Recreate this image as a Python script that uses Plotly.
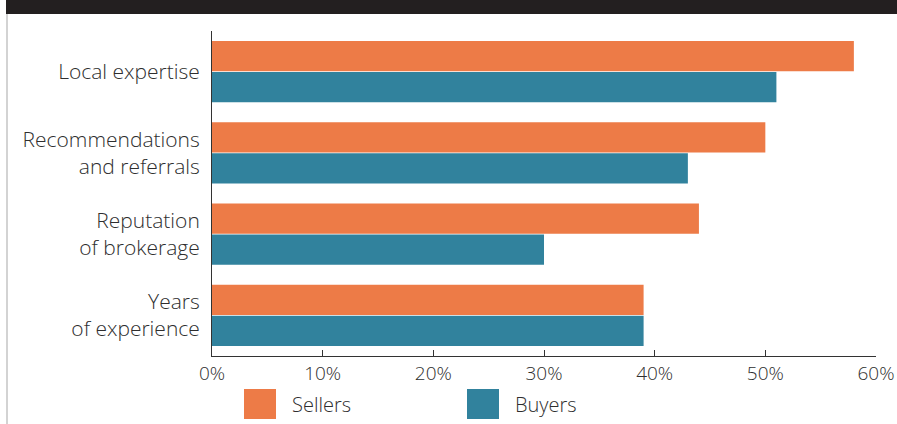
import plotly.graph_objects as go

categories = ["Local expertise", "Recommendations<br>and referrals", "Reputation<br>of brokerage", "Years<br>of experience"]
sellers = [58, 50, 44, 39]
buyers = [51, 43, 30, 39]
tick_vals = [0, 10, 20, 30, 40, 50, 60]
tick_text = ["0%", "10%", "20%", "30%", "40%", "50%", "60%"]

ORANGE = "#ED7B47"
TEAL = "#31829D"
TXT = "#2e2e2e"
FONT = "Open Sans"

W, H = 897, 424
L, R, T, B = 212, 21, 31, 68
pw, ph = W - L - R, H - T - B

def px(x):
    return (x - L) / pw

def py(y):
    return (H - B - y) / ph

fig = go.Figure()
fig.add_trace(go.Bar(y=categories, x=sellers, orientation="h", name="Sellers",
                     marker=dict(color=ORANGE, line=dict(width=0)), showlegend=False))
fig.add_trace(go.Bar(y=categories, x=buyers, orientation="h", name="Buyers",
                     marker=dict(color=TEAL, line=dict(width=0)), showlegend=False))

shapes = [
    dict(type="rect", xref="paper", yref="paper", x0=px(6), x1=px(897), y0=py(14), y1=py(0),
         fillcolor="#231f20", line=dict(width=0), layer="above"),
    dict(type="rect", xref="paper", yref="paper", x0=px(6), x1=px(8), y0=py(424), y1=py(14),
         fillcolor="#d3d3d3", line=dict(width=0)),
    dict(type="rect", xref="paper", yref="paper", x0=px(244), x1=px(276), y0=py(419), y1=py(389),
         fillcolor=ORANGE, line=dict(width=0)),
    dict(type="rect", xref="paper", yref="paper", x0=px(467), x1=px(499), y0=py(419), y1=py(389),
         fillcolor=TEAL, line=dict(width=0)),
]
annotations = [
    dict(text="Sellers", xref="paper", yref="paper", x=px(290), y=py(404), xanchor="left", yanchor="middle",
         showarrow=False, font=dict(size=20, color=TXT, family=FONT, weight=300)),
    dict(text="Buyers", xref="paper", yref="paper", x=px(513), y=py(404), xanchor="left", yanchor="middle",
         showarrow=False, font=dict(size=20, color=TXT, family=FONT, weight=300)),
]

fig.update_layout(
    width=W, height=H,
    margin=dict(l=L, r=R, t=T, b=B, pad=0),
    paper_bgcolor="white", plot_bgcolor="white",
    barmode="group", bargap=0.237, bargroupgap=0.03,
    font=dict(family=FONT, color=TXT, size=19),
    shapes=shapes, annotations=annotations,
    xaxis=dict(range=[0, 60], tickvals=tick_vals, ticktext=tick_text, showgrid=False, zeroline=False,
               showline=True, linecolor="#333333", linewidth=1, ticks="inside", ticklen=6,
               tickcolor="#333333", tickfont=dict(size=19, color=TXT, family=FONT, weight=300),
               automargin=False, fixedrange=True),
    yaxis=dict(autorange="reversed", showgrid=False, zeroline=False, showline=True, linecolor="#333333",
               linewidth=1, ticks="", ticklabelstandoff=7, automargin=False,
               tickfont=dict(size=21, color=TXT, family=FONT, weight=300)),
)

fig.write_html("out.html")
